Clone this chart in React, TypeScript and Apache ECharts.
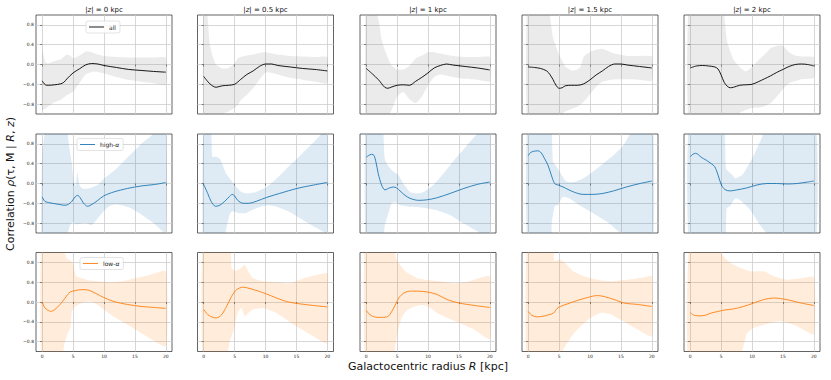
import { useEffect, useRef } from 'react';
import * as echarts from 'echarts';

// ---------- axis ticks / labels ----------
const R_TICKS = [0, 5, 10, 15, 20];
const CORR_TICKS = [-0.8, -0.4, 0, 0.4, 0.8];
const Z_VALUES = ['0', '0.5', '1', '1.5', '2'];
const POPULATIONS = ['all', 'high-α', 'low-α'];

// ---------- all stars ----------
const all_z0_line = [[0,-0.33],[0.5,-0.41],[1,-0.42],[2,-0.41],[3,-0.39],[3.5,-0.36],[4,-0.29],[5,-0.17],[6,-0.09],[7,-0.01],[8,0.02],[9,0.01],[10,-0.02],[12,-0.06],[14,-0.1],[16,-0.12],[18,-0.14],[20,-0.155]];
const all_z0_upper = [[0,0.3],[0.5,0.05],[1,0.02],[2,0.07],[3,0.1],[4,0.2],[4.5,0.18],[5,0.12],[6,0.18],[7,0.26],[8,0.25],[9,0.2],[10,0.17],[12,0.15],[14,0.14],[16,0.14],[18,0.14],[20,0.14]];
const all_z0_lower = [[0,-0.92],[1,-0.85],[2,-0.76],[3,-0.71],[4,-0.62],[5,-0.55],[6,-0.38],[7,-0.2],[8,-0.15],[9,-0.15],[10,-0.18],[12,-0.25],[14,-0.31],[16,-0.35],[18,-0.38],[20,-0.41]];

const all_z05_line = [[0,-0.24],[1,-0.39],[2,-0.46],[3,-0.43],[4,-0.42],[5,-0.4],[6,-0.3],[7,-0.2],[8,-0.13],[9,-0.04],[10,0.01],[11,0.01],[12,-0.02],[14,-0.05],[16,-0.08],[18,-0.1],[20,-0.13]];
const all_z05_upper = [[0,1.5],[0.6,1.0],[1,0.4],[1.5,0.15],[2,0.0],[3,-0.08],[4,-0.07],[5,0.02],[5.5,0.12],[6,0.15],[7,0.18],[8,0.2],[9,0.23],[10,0.25],[12,0.2],[14,0.17],[16,0.16],[18,0.15],[20,0.15]];
const all_z05_lower = [[0,-1.5],[2,-1.1],[3,-1.0],[4,-0.95],[5,-0.88],[5.5,-0.82],[6,-0.72],[7,-0.61],[8,-0.48],[9,-0.31],[10,-0.16],[11,-0.17],[12,-0.2],[14,-0.27],[16,-0.31],[18,-0.35],[20,-0.38]];

const all_z1_line = [[0,-0.08],[1,-0.19],[2,-0.31],[3,-0.46],[3.5,-0.48],[4,-0.46],[5,-0.42],[6,-0.41],[7,-0.42],[8,-0.34],[9,-0.26],[10,-0.17],[11,-0.07],[12,-0.02],[13,0.01],[14,-0.01],[16,-0.04],[18,-0.07],[20,-0.11]];
const all_z1_upper = [[0,1.5],[1,1.3],[2,0.9],[2.5,0.5],[3,0.3],[4,0.0],[5,-0.1],[6,-0.1],[7,-0.03],[8,0.12],[9,0.18],[10,0.25],[11,0.25],[12,0.22],[14,0.17],[16,0.15],[18,0.15],[20,0.15]];
const all_z1_lower = [[0,-1.5],[3,-1.1],[4,-0.95],[5,-0.65],[6,-0.55],[7,-0.7],[8,-0.78],[9,-0.65],[10,-0.42],[11,-0.25],[12,-0.2],[14,-0.25],[16,-0.29],[18,-0.31],[20,-0.34]];

const all_z15_line = [[0,-0.05],[1,-0.06],[2,-0.08],[3,-0.13],[3.5,-0.2],[4,-0.3],[4.5,-0.42],[5,-0.48],[5.5,-0.47],[6,-0.43],[7,-0.42],[8,-0.42],[9,-0.39],[10,-0.31],[11,-0.21],[12,-0.13],[13,-0.04],[14,0.01],[15,0.01],[16,-0.01],[18,-0.04],[20,-0.07]];
const all_z15_upper = [[0,1.5],[3,1.3],[3.5,1.0],[4,0.55],[5,0.2],[6,-0.04],[7,-0.12],[8,-0.1],[8.5,-0.04],[9,0.16],[10,0.26],[11,0.3],[12,0.32],[13,0.27],[14,0.22],[16,0.17],[18,0.17],[20,0.16]];
const all_z15_lower = [[0,-1.5],[4,-1.3],[5,-1.05],[6,-0.95],[7,-0.9],[8,-0.85],[9,-0.75],[10,-0.6],[11,-0.45],[12,-0.35],[14,-0.3],[16,-0.3],[18,-0.31],[20,-0.33]];

const all_z2_line = [[0,-0.07],[1,-0.03],[2,-0.02],[3,-0.03],[4,-0.05],[4.5,-0.09],[5,-0.21],[5.5,-0.36],[6,-0.44],[6.5,-0.47],[7,-0.46],[8,-0.42],[9,-0.41],[10,-0.4],[11,-0.35],[12,-0.29],[13,-0.23],[14,-0.16],[15,-0.1],[16,-0.04],[17,0.0],[18,0.01],[19,0.0],[20,-0.03]];
const all_z2_upper = [[0,1.5],[5,1.5],[5.5,1.0],[6,0.45],[7,0.1],[8,-0.05],[9,-0.14],[10,-0.05],[11,0.08],[12,0.2],[13,0.33],[14,0.38],[15,0.38],[16,0.25],[17,0.18],[18,0.16],[20,0.15]];
const all_z2_lower = [[0,-1.5],[6,-1.4],[7,-1.1],[8,-0.98],[9,-0.92],[10,-0.88],[11,-0.87],[12,-0.85],[13,-0.78],[14,-0.65],[15,-0.5],[16,-0.38],[18,-0.3],[20,-0.27]];

// ---------- high-alpha ----------
const high_z0_line = [[0,-0.27],[0.44,-0.36],[1.25,-0.39],[2.6,-0.42],[3.7,-0.44],[4.25,-0.42],[4.8,-0.36],[5.34,-0.27],[5.72,-0.24],[6.16,-0.29],[6.7,-0.4],[7.36,-0.46],[8.07,-0.42],[8.9,-0.35],[9.97,-0.25],[11.6,-0.17],[13.8,-0.1],[16,-0.05],[18.2,-0.02],[20,0.02]];
const high_z0_upper = [[0,0.6],[0.5,1.1],[1,1.5],[3.5,1.5],[4,1.2],[4.3,0.8],[4.8,0.4],[5.1,0.03],[5.4,-0.05],[5.7,0.22],[6.0,-0.02],[6.5,-0.1],[7.5,-0.1],[9,-0.03],[10,0.1],[12,0.3],[14,0.55],[16,0.8],[18,1.0],[20,1.3]];
const high_z0_lower = [[0,-1.5],[3,-1.2],[4,-1.05],[4.5,-0.85],[5,-0.78],[5.5,-0.83],[6,-0.82],[7,-0.8],[8,-0.84],[9,-0.7],[10,-0.55],[11,-0.45],[12,-0.42],[14,-0.48],[16,-0.62],[18,-0.8],[20,-1.0]];

const high_z05_line = [[0,-0.02],[0.65,-0.2],[1.2,-0.36],[1.9,-0.46],[2.6,-0.44],[3.4,-0.36],[4.2,-0.26],[4.6,-0.22],[5.0,-0.25],[5.5,-0.34],[6.4,-0.4],[7.2,-0.4],[8.5,-0.36],[10.2,-0.28],[12.3,-0.2],[15.1,-0.1],[17.8,-0.03],[20,0.02]];
const high_z05_upper = [[0,1.5],[1.1,1.3],[1.4,0.54],[2,0.54],[2.6,0.5],[3.1,0.37],[3.6,0.2],[4.4,0.07],[5.3,-0.07],[6.1,-0.17],[7.2,-0.2],[8.5,-0.17],[10.2,-0.07],[11.8,0.1],[13.4,0.3],[15.1,0.5],[16.7,0.7],[18.3,0.9],[20,1.1]];
const high_z05_lower = [[0,-1.5],[3,-1.3],[3.5,-1.0],[4.2,-0.62],[4.6,-0.56],[5.8,-0.6],[6.8,-0.6],[8.5,-0.5],[10.2,-0.44],[11.8,-0.47],[14,-0.58],[16.1,-0.74],[18.3,-0.9],[20,-1.0]];

const high_z1_line = [[0,0.53],[0.33,0.56],[0.87,0.59],[1.25,0.57],[1.57,0.44],[1.95,0.2],[2.49,-0.03],[3.04,-0.13],[3.58,-0.1],[4.39,-0.07],[4.93,-0.09],[5.48,-0.15],[6.29,-0.24],[7.1,-0.3],[8.46,-0.34],[9.81,-0.33],[11.4,-0.29],[13.6,-0.2],[15.8,-0.1],[17.9,-0.02],[20,0.03]];
const high_z1_upper = [[0,1.5],[2.5,1.5],[2.8,1.0],[3.0,0.5],[3.6,0.35],[4.4,0.24],[5.2,0.17],[6,0.0],[7.1,-0.17],[8.2,-0.2],[9.3,-0.17],[10.9,-0.03],[12.5,0.2],[14.7,0.54],[16.3,0.77],[17.9,1.0],[20,1.3]];
const high_z1_lower = [[0,-1.5],[2.5,-1.5],[3.0,-0.85],[3.6,-0.6],[4.1,-0.4],[4.7,-0.38],[5.5,-0.44],[7.1,-0.47],[9.3,-0.49],[11.4,-0.54],[13.6,-0.64],[15.8,-0.81],[17.9,-0.96],[20,-1.1]];

const high_z15_line = [[0,0.56],[0.33,0.62],[0.87,0.65],[1.57,0.66],[2.11,0.62],[2.66,0.5],[3.2,0.37],[3.74,0.17],[4.28,0],[4.82,-0.03],[5.64,-0.07],[6.45,-0.12],[7.53,-0.18],[8.89,-0.22],[10.5,-0.22],[12.1,-0.2],[13.8,-0.15],[15.9,-0.07],[18.1,0],[20,0.05]];
const high_z15_upper = [[0,1.5],[3.5,1.5],[4.0,0.44],[4.6,0.34],[5.1,0.24],[5.9,0.07],[6.45,0.03],[7.5,0.03],[8.9,0.1],[10.5,0.24],[12.1,0.4],[13.8,0.57],[15.4,0.77],[16.5,1.0],[20,1.5]];
const high_z15_lower = [[0,-1.5],[3.6,-1.5],[3.8,-0.8],[4.3,-0.45],[4.8,-0.44],[5.6,-0.27],[6.6,-0.3],[8.3,-0.44],[10.5,-0.6],[12.7,-0.77],[14.9,-1.0],[20,-1.5]];

const high_z2_line = [[0,0.54],[0.43,0.59],[0.87,0.61],[1.25,0.59],[1.79,0.53],[2.61,0.47],[3.42,0.4],[3.97,0.34],[4.51,0.17],[5.05,-0.03],[5.6,-0.12],[6.41,-0.15],[7.5,-0.13],[9.13,-0.09],[10.8,-0.03],[12.4,0],[14,0],[15.7,-0.01],[17.3,0],[19,0.03],[20,0.05]];
const high_z2_upper = [[0,1.5],[5.2,1.5],[5.8,0.3],[6.6,0.2],[7.3,0.1],[8.5,0.18],[10,0.5],[11.5,0.9],[12.5,1.2],[20,1.5]];
const high_z2_lower = [[0,-1.5],[5.4,-1.5],[5.9,-0.5],[6.5,-0.45],[7.3,-0.3],[8.0,-0.33],[9.7,-0.53],[11.3,-0.84],[12.4,-1.0],[20,-1.5]];

// ---------- low-alpha ----------
const low_z0_line = [[0,0],[0.44,-0.12],[0.98,-0.17],[1.36,-0.19],[2.07,-0.15],[2.89,-0.05],[3.71,0.08],[4.52,0.2],[5.34,0.23],[6.4,0.25],[7.5,0.24],[8.56,0.18],[9.97,0.09],[11.6,0.01],[13.8,-0.05],[16,-0.09],[18.1,-0.11],[20,-0.13]];
const low_z0_upper = [[0,1.5],[3.4,1.1],[3.9,0.9],[4.9,0.8],[5.5,0.52],[6.5,0.48],[7.5,0.44],[9,0.42],[11,0.4],[13,0.42],[15,0.48],[17,0.53],[20,0.62]];
const low_z0_lower = [[0,-1.5],[3.0,-1.2],[3.7,-0.79],[4.2,-0.62],[4.6,-0.5],[4.8,-0.19],[5.3,-0.09],[6.1,-0.04],[7,0],[7.8,0.01],[8.9,-0.05],[11.1,-0.26],[13.8,-0.46],[16.5,-0.66],[20,-0.89]];

const low_z05_line = [[0,-0.15],[0.71,-0.26],[1.52,-0.31],[2.07,-0.32],[2.88,-0.26],[3.7,-0.09],[4.5,0.11],[5.33,0.25],[6.41,0.3],[7.5,0.27],[8.86,0.22],[10.2,0.16],[11.8,0.08],[13.4,0.01],[15.7,-0.04],[17.8,-0.07],[20,-0.1]];
const low_z05_upper = [[0,1.5],[4.2,1.2],[4.5,0.69],[5.0,0.63],[5.6,0.65],[6.1,0.69],[6.7,0.75],[7.2,0.62],[8,0.48],[9.7,0.42],[11.8,0.4],[14,0.38],[16.2,0.48],[18.4,0.55],[20,0.58]];
const low_z05_lower = [[0,-1.5],[3.9,-1.0],[4.2,-0.8],[4.8,-0.59],[5.3,-0.32],[5.6,-0.19],[6.1,-0.12],[6.7,-0.29],[7.2,-0.22],[8,-0.15],[9.7,-0.12],[11.8,-0.22],[14.6,-0.46],[17.3,-0.66],[20,-0.83]];

const low_z1_line = [[0,-0.17],[0.65,-0.26],[1.74,-0.31],[2.83,-0.31],[3.64,-0.28],[4.46,-0.12],[5.27,0.08],[6.09,0.18],[7.18,0.22],[8.27,0.22],[10,0.2],[11.5,0.15],[13.1,0.05],[15,-0.02],[17.5,-0.07],[20,-0.11]];
const low_z1_upper = [[0,1.5],[4.3,1.3],[4.8,0.9],[5.5,0.75],[6.5,0.6],[7.2,0.55],[8.3,0.48],[10,0.44],[12,0.42],[14,0.38],[16,0.4],[17.5,0.45],[20,0.52]];
const low_z1_lower = [[0,-1.5],[4.3,-1.2],[4.7,-0.9],[5.2,-0.55],[5.8,-0.3],[6.5,-0.18],[7.2,-0.12],[8.8,-0.06],[10,-0.09],[11.5,-0.22],[13.1,-0.32],[15,-0.42],[17.5,-0.56],[20,-0.75]];

const low_z15_line = [[0,-0.19],[0.6,-0.27],[1.41,-0.3],[2.23,-0.29],[3.32,-0.26],[4.13,-0.22],[4.67,-0.13],[5.22,-0.09],[6.3,-0.04],[7.93,0.03],[9.57,0.09],[11.2,0.13],[12.3,0.11],[13.9,0.05],[15.5,-0.02],[17.7,-0.05],[20,-0.09]];
const low_z15_upper = [[0,1.5],[4.0,1.3],[4.2,0.83],[5.2,0.86],[6.3,0.75],[7.3,0.62],[9,0.52],[11.2,0.45],[13.4,0.42],[16.1,0.45],[18.8,0.5],[20,0.52]];
const low_z15_lower = [[0,-1.5],[5.3,-1.1],[5.5,-1.0],[6.3,-0.83],[7.4,-0.63],[8.5,-0.49],[10.1,-0.32],[11.7,-0.22],[13.4,-0.25],[15,-0.36],[17.2,-0.52],[20,-0.69]];

const low_z2_line = [[0,-0.21],[0.49,-0.26],[1.3,-0.28],[2.39,-0.27],[3.48,-0.22],[4.57,-0.19],[5.65,-0.16],[7.01,-0.14],[8.64,-0.09],[10.3,-0.02],[11.9,0.05],[13.5,0.08],[14.6,0.07],[16.3,0.03],[17.9,-0.02],[20,-0.07]];
const low_z2_upper = [[0,1.3],[4.6,1.05],[5.4,0.92],[6.5,0.79],[8.1,0.69],[9.7,0.62],[11.9,0.62],[13.5,0.52],[15.7,0.45],[17.9,0.48],[20,0.5]];
const low_z2_lower = [[0,-1.5],[8.1,-1.05],[9.2,-0.63],[10.3,-0.52],[11.9,-0.46],[14.1,-0.39],[15.2,-0.4],[17.3,-0.49],[20,-0.65]];

const PANELS = [
  [
    [all_z0_line, all_z0_upper, all_z0_lower],
    [all_z05_line, all_z05_upper, all_z05_lower],
    [all_z1_line, all_z1_upper, all_z1_lower],
    [all_z15_line, all_z15_upper, all_z15_lower],
    [all_z2_line, all_z2_upper, all_z2_lower],
  ],
  [
    [high_z0_line, high_z0_upper, high_z0_lower],
    [high_z05_line, high_z05_upper, high_z05_lower],
    [high_z1_line, high_z1_upper, high_z1_lower],
    [high_z15_line, high_z15_upper, high_z15_lower],
    [high_z2_line, high_z2_upper, high_z2_lower],
  ],
  [
    [low_z0_line, low_z0_upper, low_z0_lower],
    [low_z05_line, low_z05_upper, low_z05_lower],
    [low_z1_line, low_z1_upper, low_z1_lower],
    [low_z15_line, low_z15_upper, low_z15_lower],
    [low_z2_line, low_z2_upper, low_z2_lower],
  ],
];

// ---------- styling / layout ----------
const FONT = 'DejaVu Sans';
const LINE_COLORS = ['#000000', '#1f77b4', '#ff7f0e'];
const BAND_COLORS = ['rgba(128,128,128,0.16)', 'rgba(31,119,180,0.15)', 'rgba(255,127,14,0.15)'];
const COL_LEFT = [36, 197.5, 360, 522, 684];
const ROW_TOP = [15, 134, 252.5];
const PANEL_W = 136;
const PANEL_H = 99;
const LEGEND_LEFT = [86, 77, 80];
const LEGEND_TOP = [21, 138.5, 257.5];

function buildOption() {
  const grid: any[] = [];
  const xAxis: any[] = [];
  const yAxis: any[] = [];
  const series: any[] = [];

  PANELS.forEach((row, r) => {
    row.forEach(([line, upper, lower], c) => {
      const k = r * 5 + c;
      grid.push({
        left: COL_LEFT[c], top: ROW_TOP[r], width: PANEL_W, height: PANEL_H,
        show: true, borderColor: '#3c3c3c', borderWidth: 0.8, backgroundColor: 'transparent',
      });
      xAxis.push({
        type: 'value', gridIndex: k, min: -1, max: 21,
        axisLine: { show: false },
        axisTick: { show: true, customValues: R_TICKS, length: 2, lineStyle: { color: '#333', width: 0.6 } },
        axisLabel: { show: r === 2, customValues: R_TICKS, fontSize: 4.5, margin: 2, color: '#222', fontFamily: FONT },
        splitLine: { show: true, lineStyle: { color: '#cdcdcd', width: 0.8 } },
      });
      yAxis.push({
        type: 'value', gridIndex: k, min: -1, max: 1,
        axisLine: { show: false },
        axisTick: { show: true, customValues: CORR_TICKS, length: 2, lineStyle: { color: '#333', width: 0.6 } },
        axisLabel: {
          show: c === 0, customValues: CORR_TICKS, fontSize: 4.5, margin: 2, color: '#222', fontFamily: FONT,
          formatter: (v: number) => (v < 0 ? '\u2212' : '') + Math.abs(v).toFixed(1),
        },
        splitLine: { show: true, lineStyle: { color: '#cdcdcd', width: 0.8 } },
      });
      const poly = [...upper, ...[...lower].reverse()];
      const fill = BAND_COLORS[r];
      series.push({
        type: 'custom', name: 'band' + k, xAxisIndex: k, yAxisIndex: k, silent: true, clip: true,
        data: poly, encode: { x: 0, y: 1 }, z: 1,
        renderItem: (params: any, api: any) => {
          if (params.dataIndex !== 0) return null;
          const cs = params.coordSys;
          const pts = poly.map((p) => api.coord(p));
          return {
            type: 'polygon',
            shape: { points: pts, smooth: 0.15 },
            style: { fill, stroke: 'none' },
            clipPath: { type: 'rect', shape: { x: cs.x, y: cs.y, width: cs.width, height: cs.height } },
          };
        },
      });
      series.push({
        type: 'line', name: POPULATIONS[r], xAxisIndex: k, yAxisIndex: k, data: line,
        symbol: 'none', smooth: 0.3, z: 3,
        lineStyle: { color: LINE_COLORS[r], width: 0.9 }, itemStyle: { color: LINE_COLORS[r] },
      });
    });
  });

  const legend = POPULATIONS.map((name, r) => ({
    data: [name], left: LEGEND_LEFT[r], top: LEGEND_TOP[r], orient: 'horizontal',
    icon: 'rect', itemWidth: 15, itemHeight: 0.9, itemGap: 4,
    padding: [3, 4, 3, 3], borderColor: '#d0d0d0', borderWidth: 0.6, borderRadius: 2,
    backgroundColor: 'rgba(255,255,255,0.85)',
    textStyle: { fontSize: 6, fontFamily: FONT, color: '#222', rich: { i: { fontSize: 6, fontFamily: FONT, fontStyle: 'italic', color: '#222' } } },
    formatter: (n: string) => n.replace('α', '{i|α}'),
    selectedMode: false,
  }));

  const graphic: any[] = [];
  Z_VALUES.forEach((z, c) => {
    graphic.push({
      type: 'text', x: COL_LEFT[c] + PANEL_W / 2, y: 13.5,
      style: {
        text: '|{i|z}| = ' + z + ' kpc', fontSize: 7, fontFamily: FONT, fill: '#111',
        textAlign: 'center', textVerticalAlign: 'bottom',
        rich: { i: { fontSize: 7, fontFamily: FONT, fontStyle: 'italic', fill: '#111' } },
      },
    });
  });
  graphic.push({
    type: 'text', x: 428, y: 366.5,
    style: {
      text: 'Galactocentric radius {i|R} [kpc]', fontSize: 11, fontFamily: FONT, fill: '#111',
      textAlign: 'center', textVerticalAlign: 'middle',
      rich: { i: { fontSize: 11, fontFamily: FONT, fontStyle: 'italic', fill: '#111' } },
    },
  });
  graphic.push({
    type: 'text', x: 10, y: 184, rotation: Math.PI / 2,
    style: {
      text: 'Correlation {i|ρ}(τ, M | {i|R}, {i|z})', fontSize: 11, fontFamily: FONT, fill: '#111',
      textAlign: 'center', textVerticalAlign: 'middle',
      rich: { i: { fontSize: 11, fontFamily: FONT, fontStyle: 'italic', fill: '#111' } },
    },
  });

  return { animation: false, backgroundColor: '#ffffff', grid, xAxis, yAxis, series, legend, graphic };
}

export default function App() {
  const ref = useRef<HTMLDivElement>(null);
  useEffect(() => {
    document.body.style.margin = '0';
    const chart = echarts.init(ref.current!, null, { renderer: 'svg' });
    chart.setOption(buildOption() as any);
    return () => chart.dispose();
  }, []);
  return <div ref={ref} style={{ position: 'absolute', left: 0, top: 0, width: 831, height: 380 }} />;
}
